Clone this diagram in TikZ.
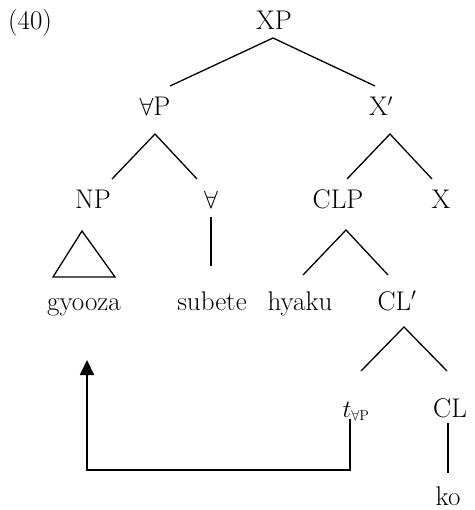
\documentclass[tikz,border=0pt]{standalone}
\usetikzlibrary{arrows.meta,calc}
\begin{document}
\begin{tikzpicture}[x=1pt,y=-1pt,
  lbl/.style={inner sep=0pt,anchor=base,font=\fontsize{27}{32}\selectfont},
  branch/.style={line width=1.3pt},
  move/.style={line width=1.8pt,-{Triangle[length=15pt,width=14pt]}}]
\useasboundingbox (0,0) rectangle (474,510);
% labels
\node[lbl] (ex)   at (30,30)   {(40)};
\node[lbl] (XP)   at (274,30)  {XP};
\node[lbl] (AP)   at (155,116) {$\forall$P};
\node[lbl] (Xbar) at (381,116) {X$'$};
\node[lbl] (NP)   at (93,209)  {NP};
\node[lbl] (A)    at (211,209) {$\forall$};
\node[lbl] (CLP)  at (338,209) {CLP};
\node[lbl] (X)    at (441,209) {X};
\node[lbl] (gy)   at (84,310)  {gyooza};
\node[lbl] (sub)  at (212,310) {subete};
\node[lbl] (hy)   at (300,310) {hyaku};
\node[lbl] (CLbar) at (397,310) {CL$'$};
\node[lbl] (t)    at (356,417) {$t_{\scriptscriptstyle\forall\mathrm{P}}$};
\node[lbl] (CL)   at (450,417) {CL};
\node[lbl] (ko)   at (448,505) {ko};
% branches
\draw[branch] ($(AP.base)+(15,-30)$) -- ($(XP.base)+(-1,8)$) -- ($(Xbar.base)+(-6,-30)$);
\draw[branch] ($(NP.base)+(19,-30)$) -- ($(AP.base)+(0,18)$) -- ($(A.base)+(-14,-30)$);
\draw[branch] ($(CLP.base)+(9,-30)$) -- ($(Xbar.base)+(9,18)$) -- ($(X.base)+(-9,-30)$);
\draw[branch] ($(NP.base)+(-11,22)$) -- ($(gy.base)+(-31,-33)$) -- ($(gy.base)+(31,-33)$) -- cycle;
\draw[branch] ($(A.base)+(0,8)$) -- ($(A.base)+(0,57)$);
\draw[branch] ($(hy.base)+(3,-35)$) -- ($(CLP.base)+(8,21)$) -- ($(CLbar.base)+(-9,-35)$);
\draw[branch] ($(t.base)+(5,-46)$) -- ($(CLbar.base)+(7,17)$) -- ($(CL.base)+(-3,-46)$);
\draw[branch] ($(CL.base)+(-2,6)$) -- ($(ko.base)+(0,-32)$);
% movement arrow
\draw[move] ($(t.base)+(-6,2)$) |- ($(gy.base)+(3,160)$) -- ($(gy.base)+(3,50)$);
\end{tikzpicture}
\end{document}
